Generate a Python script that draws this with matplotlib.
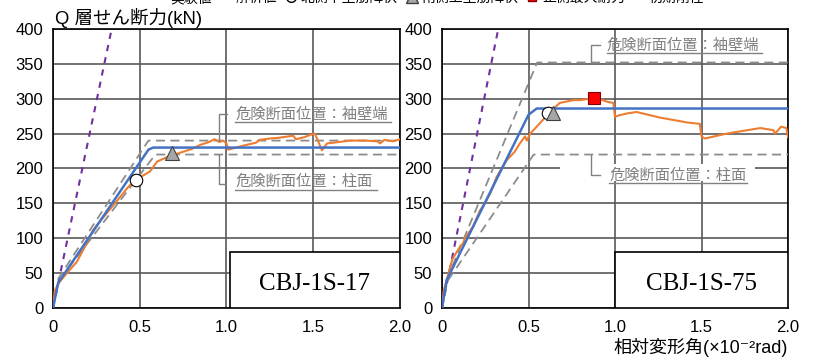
import numpy as np
import matplotlib
matplotlib.use("Agg")
import matplotlib.pyplot as plt
from matplotlib.lines import Line2D
from matplotlib.patches import Rectangle

plt.rcParams['font.family'] = ['Liberation Sans', 'Noto Sans CJK JP', 'DejaVu Sans']

# ---- data ----
specimens = ["CBJ-1S-17", "CBJ-1S-75"]

# experiment (実験値)
exp17_x = [0, 0.01, 0.04, 0.08, 0.137, 0.18, 0.232, 0.28, 0.33, 0.38, 0.425, 0.48, 0.52,
           0.56, 0.6, 0.655, 0.7, 0.75, 0.8, 0.85, 0.9, 0.93, 0.96, 0.98, 1.0, 1.01, 1.04,
           1.1, 1.17, 1.19, 1.25, 1.3, 1.385, 1.40, 1.45, 1.48, 1.51, 1.53, 1.55, 1.58,
           1.65, 1.71, 1.8, 1.87, 1.885, 1.91, 1.96, 2.0]
exp17_y = [0, 25, 38, 50, 66, 86, 112, 127, 142, 157, 171, 186, 190,
           196, 210, 216, 220, 224, 228, 234, 238, 242, 238, 240, 236, 227, 229,
           233, 237, 241, 243, 244, 247, 242, 245, 248, 250, 238, 226, 236,
           238, 240, 240, 239, 236, 241, 239, 242]
exp75_x = [0, 0.01, 0.027, 0.06, 0.104, 0.12, 0.133, 0.18, 0.22, 0.248, 0.28, 0.316, 0.374,
           0.42, 0.45, 0.48, 0.49, 0.51, 0.566, 0.624, 0.68, 0.72, 0.76, 0.8, 0.875, 0.93,
           0.95, 0.99, 1.0, 1.02, 1.07, 1.125, 1.26, 1.395, 1.415, 1.49, 1.5, 1.52, 1.645,
           1.84, 1.915, 1.925, 1.96, 1.99, 2.0]
exp75_y = [0, 25, 40, 70, 88, 92, 100, 117, 140, 150, 165, 188, 212,
           224, 236, 246, 240, 250, 265, 281, 294, 296, 298, 298, 301, 298,
           296, 294, 274, 276, 279, 281, 273, 267, 266, 264, 246, 243, 250,
           258, 255, 250, 260, 258, 245]

# analysis (解析値)
ana17_x = [0, 0.03, 0.55, 0.578, 2.0]
ana17_y = [0, 36, 227, 230, 230]
ana75_x = [0, 0.027, 0.5, 0.547, 2.0]
ana75_y = [0, 40, 277, 286, 286]

# critical section models (dashed grey): wing wall end / column face
wall17_x = [0, 0.03, 0.55, 2.0]
wall17_y = [0, 42, 240, 240]
col17_x = [0, 0.03, 0.59, 2.0]
col17_y = [0, 38, 220, 220]
wall75_x = [0, 0.03, 0.55, 2.0]
wall75_y = [0, 42, 352, 352]
col75_x = [0, 0.03, 0.53, 2.0]
col75_y = [0, 38, 220, 220]

# initial stiffness (初期剛性)
init17_x = [0, 0.338]
init75_x = [0, 0.325]
init_y = [0, 400]

# markers: north bottom bar yield, south top bar yield, max strength
north17 = (0.48, 183)
south17 = (0.685, 222)
north75 = (0.614, 280)
south75 = (0.64, 280)
max75 = (0.88, 301)

c_exp = '#ED7D31'
c_ana = '#4472C4'
c_init = '#7030A0'
c_dash = '#8C8C8C'
c_note = '#808080'

fig = plt.figure(figsize=(8.14, 3.59), dpi=100)
ax1 = fig.add_axes([0.0651, 0.1421, 0.4263, 0.7771])
ax2 = fig.add_axes([0.5430, 0.1421, 0.4251, 0.7771])


def setup(ax):
    ax.set_xlim(0, 2.0)
    ax.set_ylim(0, 400)
    ax.set_xticks([0, 0.5, 1.0, 1.5, 2.0])
    ax.set_xticklabels(['0', '0.5', '1.0', '1.5', '2.0'])
    ax.set_yticks(np.arange(0, 401, 50))
    ax.tick_params(length=0, labelsize=12, pad=7)
    ax.tick_params(axis='x', pad=9)
    ax.set_axisbelow(True)
    ax.grid(True, color='#595959', lw=1.2)
    for s in ax.spines.values():
        s.set_color('black')
        s.set_linewidth(1.2)


def note(ax, tx, ty, ul_y, ul_x1, bx, by0, by1, bx1, label, cover=None):
    if cover is not None:
        ax.add_patch(Rectangle((cover[0], cover[1]), cover[2], cover[3],
                               facecolor='white', edgecolor='none', zorder=1))
    ax.text(tx, ty, label, color=c_note, fontsize=11, va='center', ha='left', zorder=6)
    ax.plot([tx, ul_x1], [ul_y, ul_y], color=c_note, lw=1.0, zorder=6)
    ax.plot([bx, bx, bx1], [by0, by1, by1], color=c_note, lw=1.0, zorder=6)


for ax in (ax1, ax2):
    setup(ax)

# left: CBJ-1S-17
ax1.plot(init17_x, init_y, color=c_init, lw=1.5, ls=(0, (3, 3)), zorder=3)
ax1.plot(wall17_x, wall17_y, color=c_dash, lw=1.3, ls=(0, (5, 3)), zorder=3)
ax1.plot(col17_x, col17_y, color=c_dash, lw=1.3, ls=(0, (5, 3)), zorder=3)
ax1.plot(exp17_x, exp17_y, color=c_exp, lw=1.5, zorder=4)
ax1.plot(ana17_x, ana17_y, color=c_ana, lw=1.8, zorder=4)
ax1.plot(*north17, marker='o', ms=9, mfc='white', mec='black', mew=0.8, zorder=5)
ax1.plot(*south17, marker='^', ms=10, mfc='#A6A6A6', mec='#404040', mew=0.8, zorder=5)
ax1.add_patch(Rectangle((1.02, 0), 0.98, 80, facecolor='white', edgecolor='black', lw=1.2, zorder=6))
ax1.text(1.51, 35, specimens[0], family='Liberation Serif', fontsize=18, ha='center', va='center', zorder=7)
note(ax1, 1.049, 277, 267, 1.948, 0.957, 240, 278, 1.003, '危険断面位置：袖壁端')
note(ax1, 1.049, 181, 169, 1.87, 0.957, 220, 178, 0.99, '危険断面位置：柱面')

# right: CBJ-1S-75
ax2.plot(init75_x, init_y, color=c_init, lw=1.5, ls=(0, (3, 3)), zorder=3)
ax2.plot(wall75_x, wall75_y, color=c_dash, lw=1.3, ls=(0, (5, 3)), zorder=3)
ax2.plot(col75_x, col75_y, color=c_dash, lw=1.3, ls=(0, (5, 3)), zorder=3)
ax2.plot(exp75_x, exp75_y, color=c_exp, lw=1.5, zorder=4)
ax2.plot(ana75_x, ana75_y, color=c_ana, lw=1.8, zorder=4)
ax2.plot(*north75, marker='o', ms=9, mfc='white', mec='black', mew=0.8, zorder=5)
ax2.plot(*south75, marker='^', ms=10, mfc='#A6A6A6', mec='#404040', mew=0.8, zorder=5)
ax2.plot(*max75, marker='s', ms=8, mfc='#FF0000', mec='#800000', mew=0.8, zorder=5)
ax2.add_patch(Rectangle((1.0, 0), 1.0, 80, facecolor='white', edgecolor='black', lw=1.2, zorder=6))
ax2.text(1.5, 35, specimens[1], family='Liberation Serif', fontsize=18, ha='center', va='center', zorder=7)
note(ax2, 0.952, 376, 366, 1.848, 0.861, 353, 377, 0.913, '危険断面位置：袖壁端')
note(ax2, 0.965, 190, 179, 1.763, 0.861, 220, 190, 0.913, '危険断面位置：柱面',
     cover=(0.68, 182, 1.13, 24))

fig.text(0.0676, 0.951, 'Q 層せん断力(kN)', fontsize=13.3, ha='left', va='center')
fig.text(0.968, 0.031, '相対変形角(×10⁻²rad)', fontsize=13, ha='right', va='center')

handles = [
    Line2D([], [], color=c_exp, lw=2),
    Line2D([], [], color=c_ana, lw=2),
    Line2D([], [], ls='none', marker='o', ms=7, mfc='white', mec='black'),
    Line2D([], [], ls='none', marker='^', ms=8, mfc='#A6A6A6', mec='#404040'),
    Line2D([], [], ls='none', marker='s', ms=6, mfc='#FF0000', mec='#800000'),
    Line2D([], [], color=c_init, lw=1.5, ls=(0, (3, 2))),
]
labels = ['実験値', '解析値', '北側下主筋降伏', '南側上主筋降伏', '正側最大耐力', '初期剛性']
fig.legend(handles, labels, loc='center', bbox_to_anchor=(429 / 814, 1.0 + 2 / 359),
           ncol=6, frameon=False, fontsize=10, handlelength=1.0, handletextpad=0.2,
           columnspacing=0.5, borderaxespad=0)

fig.savefig('out.png', dpi=100)
